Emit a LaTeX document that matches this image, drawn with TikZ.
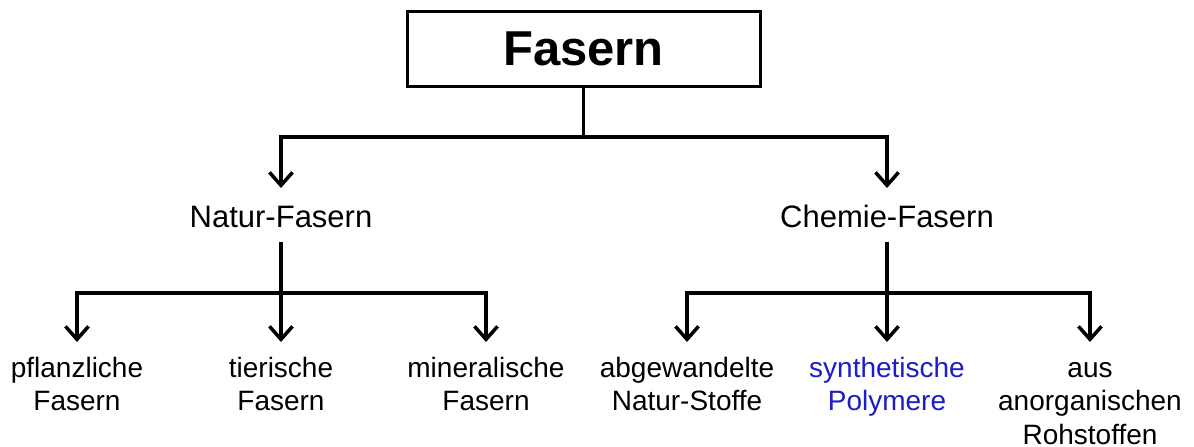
\documentclass[tikz,border=0pt]{standalone}
\usepackage{fontspec}
\setmainfont{Liberation Sans}
\usetikzlibrary{arrows.meta}
\definecolor{synblue}{RGB}{28,28,200}
% vertical strut: height above baseline, depth below
\newcommand\liftbox[2]{\rule[-#2]{0pt}{\dimexpr#1+#2\relax}}
\begin{document}
\begin{tikzpicture}[x=1pt,y=-1pt,
  rootbox/.style={draw,line width=3pt,minimum width=353pt,minimum height=75pt,
    inner sep=0pt,font=\fontsize{49}{58}\selectfont\bfseries},
  midlabel/.style={inner sep=0pt,outer sep=0pt,anchor=north,align=center,
    font=\fontsize{31}{37}\selectfont},
  leaflabel/.style={inner sep=0pt,outer sep=0pt,anchor=north,align=center,
    font=\fontsize{28}{33.5}\selectfont},
  link/.style={line width=3.5pt},
  arrowlink/.style={link,-{Straight Barb[length=13pt,width=23pt]}}]
\useasboundingbox (0,0) rectangle (1194,447);

% top box
\node[rootbox] (root) at (583.5,48.5) {Fasern};

% second level
\node[midlabel] (nat)  at (281,188) {\liftbox{39pt}{15pt}Natur-Fasern};
\node[midlabel] (chem) at (887,188) {\liftbox{39pt}{15pt}Chemie-Fasern};

% third level
\node[leaflabel] (pfl) at (77,342)   {\liftbox{35pt}{0pt}pflanzliche\\Fasern};
\node[leaflabel] (tie) at (281,342)  {\liftbox{35pt}{0pt}tierische\\Fasern};
\node[leaflabel] (min) at (486,342)  {\liftbox{35pt}{0pt}mineralische\\Fasern};
\node[leaflabel] (abg) at (687,342)  {\liftbox{35pt}{0pt}abgewandelte\\Natur-Stoffe};
\node[leaflabel,text=synblue] (syn) at (887,342) {\liftbox{35pt}{0pt}synthetische\\Polymere};
\node[leaflabel] (anr) at (1090,342) {\liftbox{35pt}{0pt}aus\\anorganischen\\Rohstoffen};

% branching points
\coordinate (hub0) at (583.5,137);
\coordinate (hub1) at (281,293);
\coordinate (hub2) at (887,293);

% connectors
\draw[link] (root.south) -- (hub0);
\draw[arrowlink] (hub0) -| (nat.north);
\draw[arrowlink] (hub0) -| (chem.north);

\draw[link] (nat.south) -- (hub1);
\draw[arrowlink] (hub1) -| (pfl.north);
\draw[arrowlink] (hub1) -- (tie.north);
\draw[arrowlink] (hub1) -| (min.north);

\draw[link] (chem.south) -- (hub2);
\draw[arrowlink] (hub2) -| (abg.north);
\draw[arrowlink] (hub2) -- (syn.north);
\draw[arrowlink] (hub2) -| (anr.north);
\end{tikzpicture}
\end{document}
